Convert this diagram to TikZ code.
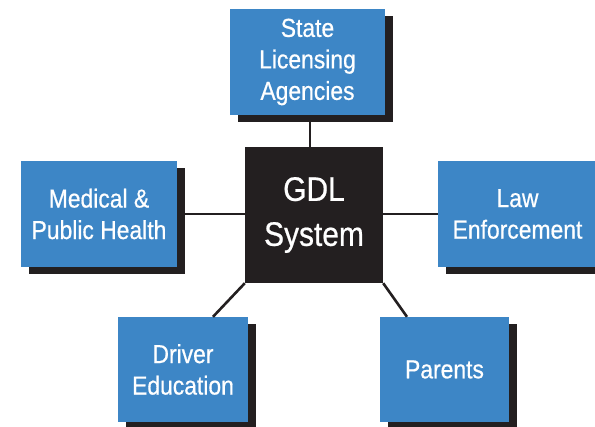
\documentclass[tikz,border=0pt]{standalone}
\usepackage{fontspec}
\setmainfont{Liberation Sans}[FakeStretch=0.88,FakeBold=0.6]
\usetikzlibrary{shadows,calc}
\definecolor{boxblue}{HTML}{3D86C6}
\definecolor{inkdark}{HTML}{231F20}
\tikzset{
  sidebox/.style={rectangle, fill=boxblue, draw=none, inner sep=0pt, align=center,
    text=white, font=\fontsize{26}{31.5}\selectfont,
    drop shadow={shadow xshift=8pt, shadow yshift=-7pt, opacity=1, fill=inkdark}},
  corebox/.style={rectangle, fill=inkdark, draw=none, inner sep=0pt, align=center,
    text=white, font=\fontsize{34}{45}\selectfont},
  link/.style={draw=inkdark, line width=2.6pt}
}
\begin{document}
\begin{tikzpicture}[x=1pt,y=-1pt]
\useasboundingbox (0,0) rectangle (595,427);
\node[corebox, minimum width=138pt, minimum height=136pt] (gdl) at (314,215) {GDL\\System};
\node[sidebox, minimum width=155pt, minimum height=106pt] (state) at (307.5,62) {State\\Licensing\\Agencies};
\node[sidebox, minimum width=156pt, minimum height=106pt] (med) at (99,214) {Medical \&\\Public Health};
\node[sidebox, minimum width=159pt, minimum height=106pt] (law) at (517.5,214) {Law\\Enforcement};
\node[sidebox, minimum width=130pt, minimum height=105pt] (driver) at (183,369.5) {Driver\\Education};
\node[sidebox, minimum width=129pt, minimum height=105pt] (parents) at (444.5,369.5) {Parents};
\coordinate (sx) at ($(state.south)+(2.5,0)$);
\draw[link] (sx) -- (sx |- gdl.north);
\draw[link] (med.east) -- (med.east -| gdl.west);
\draw[link] (law.west) -- (law.west -| gdl.east);
\draw[link] (gdl.south west) -- ($(driver.north west)!0.73!(driver.north east)$);
\draw[link] (gdl.south east) -- ($(parents.north west)!0.21!(parents.north east)$);
\end{tikzpicture}
\end{document}
